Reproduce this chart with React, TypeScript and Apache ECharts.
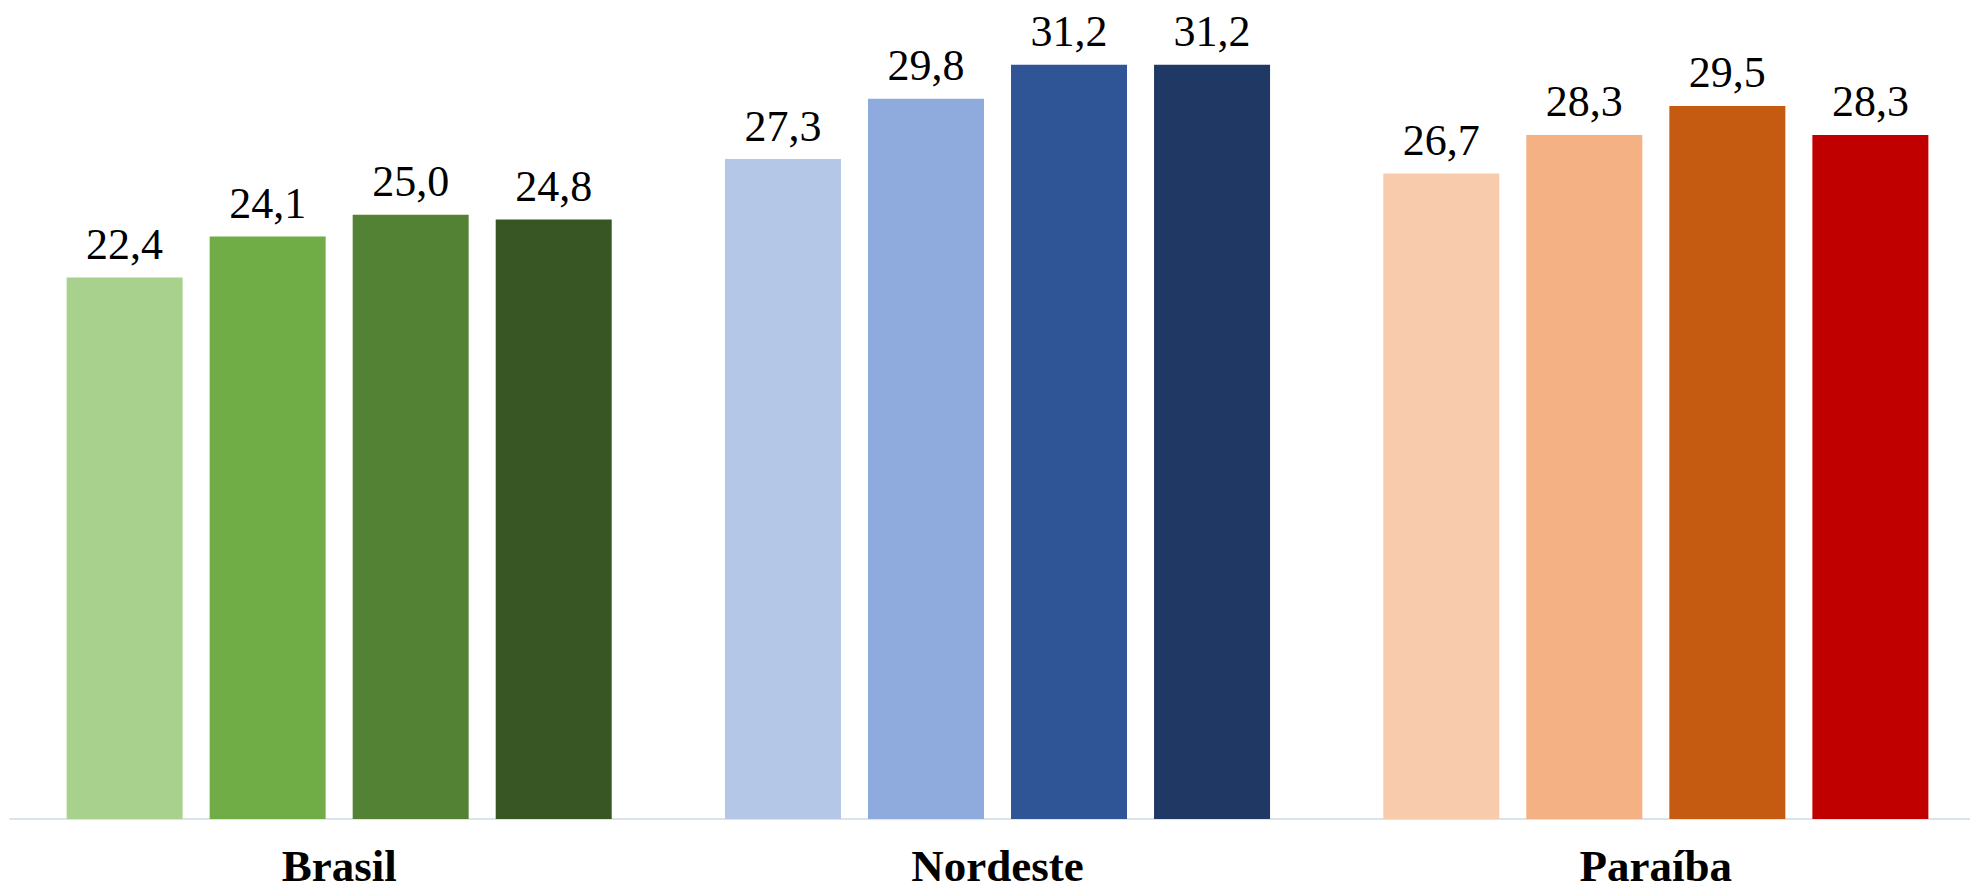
import React, { useEffect, useRef } from "react";
import * as echarts from "echarts";

const categories = ["Brasil", "Nordeste", "Paraíba"];
const seriesNames = ["Série 1", "Série 2", "Série 3", "Série 4"];
// values per series, across categories
const serie1 = [22.4, 27.3, 26.7];
const serie2 = [24.1, 29.8, 28.3];
const serie3 = [25.0, 31.2, 29.5];
const serie4 = [24.8, 31.2, 28.3];
const seriesValues = [serie1, serie2, serie3, serie4];
// colours: [category][series]
const brasilColors = ["#A9D18E", "#70AD47", "#548235", "#375623"];
const nordesteColors = ["#B4C7E7", "#8FAADC", "#2F5597", "#203864"];
const paraibaColors = ["#F8CBAD", "#F4B183", "#C55A11", "#C00000"];
const categoryColors = [brasilColors, nordesteColors, paraibaColors];

const FONT = "'Liberation Serif', 'Times New Roman', serif";

export default function App() {
  const ref = useRef<HTMLDivElement>(null);
  useEffect(() => {
    if (!ref.current) return;
    const chart = echarts.init(ref.current, undefined, { renderer: "svg" });
    chart.setOption({
      animation: false,
      backgroundColor: "#ffffff",
      grid: { left: 10, width: 1975, top: 0, bottom: 74, containLabel: false },
      xAxis: {
        type: "category",
        data: categories,
        axisLine: { show: true, lineStyle: { color: "#DDE3EA", width: 2 } },
        axisTick: { show: false },
        axisLabel: {
          color: "#000000",
          fontFamily: FONT,
          fontWeight: "bold",
          fontSize: 45,
          lineHeight: 38,
          margin: 28,
        },
      },
      yAxis: {
        type: "value",
        min: 0,
        max: 33.88,
        show: false,
        splitLine: { show: false },
      },
      series: seriesValues.map((vals, si) => ({
        type: "bar",
        name: seriesNames[si],
        barWidth: 116,
        barGap: "23.3%",
        data: vals.map((v, ci) => ({
          value: v,
          itemStyle: { color: categoryColors[ci][si] },
        })),
        label: {
          show: true,
          position: "top",
          distance: 11,
          color: "#000000",
          fontFamily: FONT,
          fontSize: 44,
          formatter: (p: any) => p.value.toFixed(1).replace(".", ","),
        },
      })),
    });
    return () => chart.dispose();
  }, []);
  return (
    <div
      style={{
        position: "fixed",
        left: 0,
        top: 0,
        width: 1970,
        height: 893,
        overflow: "hidden",
        background: "#ffffff",
      }}
    >
      <div ref={ref} style={{ width: 1995, height: 893 }} />
    </div>
  );
}
